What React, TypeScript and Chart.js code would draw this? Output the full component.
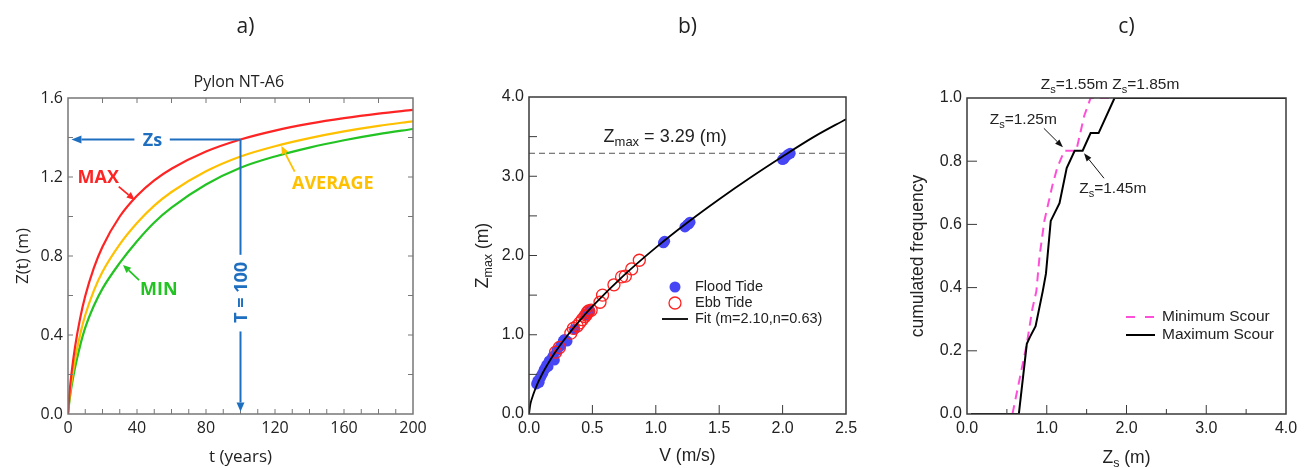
import { useEffect, useRef } from 'react';
import { Chart, registerables } from 'chart.js';
Chart.register(...registerables);

// ---------- Panel a: scour depth vs time ----------
const tYears = [0, 1, 2, 4, 7, 10, 15, 20, 30, 40, 50, 60, 80, 100, 120, 140, 160, 180, 200];
const zMaxCurve = [0, 0.118, 0.203, 0.335, 0.483, 0.597, 0.74, 0.847, 1.0, 1.105, 1.183, 1.242, 1.329, 1.39, 1.435, 1.47, 1.498, 1.521, 1.54];
const zAvgCurve = [0, 0.094, 0.163, 0.273, 0.4, 0.501, 0.625, 0.72, 0.859, 0.967, 1.055, 1.124, 1.229, 1.304, 1.356, 1.397, 1.431, 1.459, 1.482];
const zMinCurve = [0, 0.078, 0.136, 0.231, 0.345, 0.437, 0.548, 0.635, 0.765, 0.875, 0.97, 1.045, 1.162, 1.247, 1.304, 1.349, 1.386, 1.417, 1.443];
const designLife = 100;

// ---------- Panel b: Zmax vs V ----------
const floodV = [0.06, 0.07, 0.08, 0.09, 0.10, 0.11, 0.12, 0.13, 0.14, 0.15, 0.16, 0.18, 0.19, 0.20, 0.22, 0.25, 0.27, 0.28, 0.30, 0.36, 0.45, 0.47, 0.48, 1.06, 1.07, 1.23, 1.25, 1.26, 1.27, 2.00, 2.01, 2.02, 2.04, 2.06];
const floodZ = [0.38, 0.42, 0.40, 0.46, 0.49, 0.52, 0.56, 0.58, 0.62, 0.60, 0.67, 0.70, 0.73, 0.68, 0.80, 0.86, 0.92, 0.94, 0.92, 1.07, 1.25, 1.28, 1.30, 2.16, 2.18, 2.36, 2.39, 2.40, 2.42, 3.21, 3.22, 3.24, 3.27, 3.29];
const ebbV = [0.21, 0.24, 0.33, 0.35, 0.38, 0.40, 0.42, 0.44, 0.45, 0.46, 0.47, 0.49, 0.56, 0.58, 0.67, 0.73, 0.76, 0.81, 0.87];
const ebbZ = [0.78, 0.84, 1.02, 1.08, 1.11, 1.15, 1.19, 1.23, 1.25, 1.28, 1.30, 1.31, 1.41, 1.50, 1.63, 1.73, 1.74, 1.83, 1.94];
const fitV = [0, 0.01, 0.02, 0.05, 0.1, 0.2, 0.3, 0.4, 0.5, 0.75, 1.0, 1.25, 1.5, 1.75, 2.0, 2.25, 2.5];
const fitZ = [0, 0.116, 0.179, 0.318, 0.492, 0.762, 0.984, 1.179, 1.357, 1.752, 2.10, 2.417, 2.711, 2.988, 3.25, 3.50, 3.72];
const zMaxDesign = 3.29;

// ---------- Panel c: cumulated frequency ----------
const maxScourZ = [0.05, 0.65, 0.75, 0.79, 0.86, 0.95, 0.99, 1.05, 1.16, 1.25, 1.35, 1.45, 1.55, 1.65, 1.85, 4.0];
const maxScourF = [0, 0, 0.222, 0.244, 0.278, 0.389, 0.444, 0.611, 0.667, 0.778, 0.833, 0.833, 0.889, 0.889, 1.0, 1.0];
const minScourZ = [0.57, 0.66, 0.75, 0.82, 0.87, 0.91, 0.97, 1.02, 1.07, 1.13, 1.22, 1.37, 1.47, 1.55, 4.0];
const minScourF = [0, 0.111, 0.222, 0.333, 0.389, 0.5, 0.611, 0.667, 0.722, 0.778, 0.833, 0.833, 0.944, 1.0, 1.0];

const OS = "'Open Sans', sans-serif";
const AR = "'Liberation Sans', Arial, sans-serif";
const TXT = '#222';

const toPts = (xs: number[], ys: number[]) => xs.map((x, i) => ({ x, y: ys[i] }));

function line(ctx: any, x1: number, y1: number, x2: number, y2: number) {
  ctx.beginPath(); ctx.moveTo(x1, y1); ctx.lineTo(x2, y2); ctx.stroke();
}

function drawArrow(ctx: any, x1: number, y1: number, x2: number, y2: number, color: string, lw: number, head: number, hw: number) {
  const ang = Math.atan2(y2 - y1, x2 - x1);
  const bx = x2 - head * Math.cos(ang), by = y2 - head * Math.sin(ang);
  ctx.strokeStyle = color; ctx.fillStyle = color; ctx.lineWidth = lw; ctx.setLineDash([]);
  line(ctx, x1, y1, bx, by);
  ctx.beginPath();
  ctx.moveTo(x2, y2);
  ctx.lineTo(bx + hw * Math.sin(ang), by - hw * Math.cos(ang));
  ctx.lineTo(bx - hw * Math.sin(ang), by + hw * Math.cos(ang));
  ctx.closePath(); ctx.fill();
}

// runs: [text, size, baselineOffset]
function drawRuns(ctx: any, runs: [string, number, number][], x: number, y: number, family: string, color: string, center: boolean) {
  ctx.fillStyle = color; ctx.textBaseline = 'alphabetic'; ctx.textAlign = 'left';
  const widths = runs.map(r => { ctx.font = `${r[1]}px ${family}`; return ctx.measureText(r[0]).width; });
  const total = widths.reduce((a, b) => a + b, 0);
  let cx = center ? x - total / 2 : x;
  runs.forEach((r, i) => { ctx.font = `${r[1]}px ${family}`; ctx.fillText(r[0], cx, y + r[2]); cx += widths[i]; });
}

function header(ctx: any, text: string, x: number) {
  ctx.save();
  ctx.font = `21px ${OS}`; ctx.fillStyle = TXT; ctx.textAlign = 'center'; ctx.textBaseline = 'middle';
  ctx.fillText(text, x, 27);
  ctx.restore();
}

const decoA = {
  id: 'decoA',
  afterDraw(chart: any) {
    const { ctx, chartArea: ca } = chart;
    const X = (v: number) => chart.scales.x.getPixelForValue(v);
    const Y = (v: number) => chart.scales.y.getPixelForValue(v);
    ctx.save();
    ctx.strokeStyle = '#777'; ctx.lineWidth = 1;
    for (let v = 0.2; v < 1.59; v += 0.2) { const p = Y(v); line(ctx, ca.left, p, ca.left + 5, p); line(ctx, ca.right, p, ca.right - 5, p); }
    for (let v = 10; v < 200; v += 10) { const p = X(v); line(ctx, p, ca.bottom, p, ca.bottom - 5); }
    for (let v = 20; v < 200; v += 20) { const p = X(v); line(ctx, p, ca.top, p, ca.top + 5); }
    ctx.lineWidth = 1.5;
    ctx.strokeRect(ca.left, ca.top, ca.right - ca.left, ca.bottom - ca.top);

    // panel title
    ctx.font = `16px ${OS}`; ctx.fillStyle = TXT; ctx.textAlign = 'center'; ctx.textBaseline = 'middle';
    ctx.fillText('Pylon NT-A6', X(99), 82);

    // Zs / T = 100 construction
    const blue = '#1F6FC0';
    const zs = zMaxCurve[tYears.indexOf(designLife)];
    const px = X(designLife), py = Y(zs);
    ctx.strokeStyle = blue; ctx.lineWidth = 2;
    line(ctx, px, py, X(59), py);
    drawArrow(ctx, X(38.5), py, X(2), py, blue, 2, 10, 4);
    ctx.font = `bold 18px ${OS}`; ctx.fillStyle = blue; ctx.textAlign = 'center'; ctx.textBaseline = 'middle';
    ctx.fillText('Zs', X(49), py + 1);
    ctx.strokeStyle = blue; ctx.lineWidth = 2;
    line(ctx, px, py, px, Y(0.806));
    drawArrow(ctx, px, Y(0.418), px, Y(0.013), blue, 2, 9, 4);
    ctx.save();
    ctx.translate(px, Y(0.616)); ctx.rotate(-Math.PI / 2);
    ctx.font = `bold 18px ${OS}`; ctx.fillStyle = blue; ctx.textAlign = 'center'; ctx.textBaseline = 'middle';
    ctx.fillText('T = 100', 0, 1);
    ctx.restore();

    // curve labels
    const red = '#FF2424', orange = '#FFC000', green = '#22C322';
    ctx.font = `bold 18px ${OS}`; ctx.textAlign = 'center'; ctx.textBaseline = 'middle';
    ctx.fillStyle = red; ctx.fillText('MAX', X(17.5), Y(1.195));
    ctx.fillStyle = orange; ctx.fillText('AVERAGE', X(153.5), Y(1.166));
    ctx.fillStyle = green; ctx.fillText('MIN', X(52.6), Y(0.629));
    drawArrow(ctx, X(29.4), Y(1.151), X(38.7), Y(1.084), red, 1.8, 8, 3.5);
    drawArrow(ctx, X(131.4), Y(1.227), X(123.7), Y(1.357), orange, 1.8, 8, 3.5);
    drawArrow(ctx, X(41.2), Y(0.678), X(31.9), Y(0.755), green, 1.8, 8, 3.5);

    header(ctx, 'a)', (ca.left + ca.right) / 2 + 5);
    ctx.restore();
  },
};

const decoB = {
  id: 'decoB',
  afterDraw(chart: any) {
    const { ctx, chartArea: ca } = chart;
    const X = (v: number) => chart.scales.x.getPixelForValue(v);
    const Y = (v: number) => chart.scales.y.getPixelForValue(v);
    ctx.save();
    ctx.strokeStyle = '#3a3a3a'; ctx.lineWidth = 1;
    for (let v = 0.5; v < 3.99; v += 0.5) { const p = Y(v); line(ctx, ca.left, p, ca.left + 8, p); }
    for (let v = 0.5; v < 2.49; v += 0.5) { const p = X(v); line(ctx, p, ca.bottom, p, ca.bottom - 9); }
    ctx.lineWidth = 1.5;
    ctx.strokeRect(ca.left, ca.top, ca.right - ca.left, ca.bottom - ca.top);

    drawRuns(ctx, [['Z', 18, 0], ['max', 13, 4], [' = ' + zMaxDesign.toFixed(2) + ' (m)', 18, 0]], X(0.588), Y(3.438), AR, TXT, false);

    // legend
    const lx = ca.left + 146, tx = ca.left + 166;
    const r1 = ca.top + 190, r2 = ca.top + 206, r3 = ca.top + 222;
    ctx.fillStyle = '#4646F5';
    ctx.beginPath(); ctx.arc(lx, r1, 5.5, 0, Math.PI * 2); ctx.fill();
    ctx.strokeStyle = '#FF2020'; ctx.lineWidth = 1.3;
    ctx.beginPath(); ctx.arc(lx, r2, 6, 0, Math.PI * 2); ctx.stroke();
    ctx.strokeStyle = '#000'; ctx.lineWidth = 1.8;
    line(ctx, ca.left + 133, r3, ca.left + 159, r3);
    ctx.font = `14.5px ${AR}`; ctx.fillStyle = TXT; ctx.textAlign = 'left'; ctx.textBaseline = 'middle';
    ctx.fillText('Flood Tide', tx, r1);
    ctx.fillText('Ebb Tide', tx, r2);
    ctx.fillText('Fit (m=2.10,n=0.63)', tx, r3);

    // y title with subscript
    ctx.save();
    ctx.translate(41.7, (ca.top + ca.bottom) / 2); ctx.rotate(-Math.PI / 2);
    drawRuns(ctx, [['Z', 17.5, 0], ['max', 12.5, 4], [' (m)', 17.5, 0]], 0, 6, AR, TXT, true);
    ctx.restore();

    header(ctx, 'b)', (ca.left + ca.right) / 2);
    ctx.restore();
  },
};

const decoC = {
  id: 'decoC',
  afterDraw(chart: any) {
    const { ctx, chartArea: ca } = chart;
    const X = (v: number) => chart.scales.x.getPixelForValue(v);
    const Y = (v: number) => chart.scales.y.getPixelForValue(v);
    ctx.save();
    ctx.strokeStyle = '#3a3a3a'; ctx.lineWidth = 1;
    for (let v = 0.2; v < 0.99; v += 0.2) { const p = Y(v); line(ctx, ca.left, p, ca.left + 10, p); }
    for (let i = 1; i < 8; i++) { const p = X(i * 0.5); line(ctx, p, ca.bottom, p, ca.bottom - (i % 2 === 0 ? 9 : 5)); }
    ctx.lineWidth = 1.5;
    ctx.strokeRect(ca.left, ca.top, ca.right - ca.left, ca.bottom - ca.top);

    const zs = (v: string) => [['Z', 15.5, 0], ['s', 11, 3.5], ['=' + v + 'm', 15.5, 0]] as [string, number, number][];
    drawRuns(ctx, zs('1.55'), X(0.926), Y(1.027), AR, TXT, false);
    drawRuns(ctx, zs('1.85'), X(1.822), Y(1.027), AR, TXT, false);
    drawRuns(ctx, zs('1.25'), X(0.285), Y(0.917), AR, TXT, false);
    drawRuns(ctx, zs('1.45'), X(1.407), Y(0.698), AR, TXT, false);
    drawArrow(ctx, X(0.964), Y(0.904), X(1.203), Y(0.844), '#111', 1, 8, 3);
    drawArrow(ctx, X(1.718), Y(0.746), X(1.467), Y(0.825), '#111', 1, 8, 3);

    // legend
    const x1 = ca.left + 159, x2 = ca.left + 188, tx = ca.left + 195;
    const r1 = ca.top + 219, r2 = ca.top + 237;
    ctx.strokeStyle = '#FF4FD8'; ctx.lineWidth = 2; ctx.setLineDash([9, 10]);
    line(ctx, x1, r1, x2, r1);
    ctx.setLineDash([]);
    ctx.strokeStyle = '#000'; ctx.lineWidth = 2;
    line(ctx, x1, r2, x2, r2);
    ctx.font = `15.5px ${AR}`; ctx.fillStyle = TXT; ctx.textAlign = 'left'; ctx.textBaseline = 'middle';
    ctx.fillText('Minimum Scour', tx, r1);
    ctx.fillText('Maximum Scour', tx, r2);

    // x title with subscript
    drawRuns(ctx, [['Z', 17.5, 0], ['s', 12.5, 4], [' (m)', 17.5, 0]], (ca.left + ca.right) / 2, 463, AR, TXT, true);

    header(ctx, 'c)', (ca.left + ca.right) / 2);
    ctx.restore();
  },
};

const noGrid = { display: false, drawTicks: false };
const noBorder = { display: false };
const fix1 = (v: any) => Number(v).toFixed(1);

function makeA(cv: HTMLCanvasElement) {
  const tickFont = { family: OS, size: 16 };
  const curve = (ys: number[], color: string) => ({
    data: toPts(tYears, ys), showLine: true, borderColor: color, borderWidth: 2.2, pointRadius: 0, cubicInterpolationMode: 'monotone',
  });
  return new Chart(cv, {
    type: 'scatter',
    data: {
      datasets: [curve(zMaxCurve, '#FF2424'), curve(zAvgCurve, '#FFC000'), curve(zMinCurve, '#22C322')],
    },
    options: {
      animation: false, responsive: false, events: [],
      layout: { padding: { left: 0, right: 27, top: 98, bottom: 0 } },
      plugins: { legend: { display: false }, tooltip: { enabled: false } },
      scales: {
        x: {
          type: 'linear', min: 0, max: 200, grid: noGrid, border: noBorder,
          afterFit: (s: any) => { s.height = 54; },
          ticks: { stepSize: 40, padding: 5, color: TXT, font: tickFont, maxRotation: 0, autoSkip: false },
          title: { display: true, text: 't (years)', color: TXT, font: { family: OS, size: 17 }, padding: { top: 0, bottom: 1 } },
        },
        y: {
          type: 'linear', min: 0, max: 1.6, grid: noGrid, border: noBorder,
          afterFit: (s: any) => { s.width = 68; },
          ticks: { stepSize: 0.4, padding: 5, color: TXT, font: tickFont, callback: fix1 },
          title: { display: true, text: 'Z(t) (m)', color: TXT, font: { family: OS, size: 17 }, padding: { top: 13, bottom: 0 } },
        },
      },
    } as any,
    plugins: [decoA],
  });
}

function makeB(cv: HTMLCanvasElement) {
  const tickFont = { family: AR, size: 16 };
  return new Chart(cv, {
    type: 'scatter',
    data: {
      datasets: [
        { data: toPts(fitV, fitZ), showLine: true, borderColor: '#000', borderWidth: 1.8, pointRadius: 0, cubicInterpolationMode: 'monotone', order: 0 },
        { data: toPts(ebbV, ebbZ), pointRadius: 6, pointBorderWidth: 1.3, pointBorderColor: '#FF2020', pointBackgroundColor: 'rgba(0,0,0,0)', borderColor: '#FF2020', backgroundColor: 'rgba(0,0,0,0)', order: 1 },
        { data: toPts(floodV, floodZ), pointRadius: 5.5, pointBorderWidth: 0, pointBackgroundColor: '#4646F5', backgroundColor: '#4646F5', borderColor: '#4646F5', order: 2 },
        { data: [{ x: 0, y: zMaxDesign }, { x: 2.5, y: zMaxDesign }], showLine: true, borderColor: '#555', borderWidth: 1, borderDash: [6, 4], pointRadius: 0, order: 3 },
      ],
    },
    options: {
      animation: false, responsive: false, events: [],
      layout: { padding: { left: 0, right: 34, top: 97, bottom: 0 } },
      plugins: { legend: { display: false }, tooltip: { enabled: false } },
      scales: {
        x: {
          type: 'linear', min: 0, max: 2.5, grid: noGrid, border: noBorder,
          afterFit: (s: any) => { s.height = 54; },
          ticks: { stepSize: 0.5, padding: 5, color: TXT, font: tickFont, maxRotation: 0, autoSkip: false, callback: fix1 },
          title: { display: true, text: 'V (m/s)', color: TXT, font: { family: AR, size: 17.5 }, padding: { top: 0, bottom: 1 } },
        },
        y: {
          type: 'linear', min: 0, max: 4, grid: noGrid, border: noBorder,
          afterFit: (s: any) => { s.width = 89; },
          ticks: { stepSize: 1, padding: 5, color: TXT, font: tickFont, callback: fix1 },
        },
      },
    } as any,
    plugins: [decoB],
  });
}

function makeC(cv: HTMLCanvasElement) {
  const tickFont = { family: AR, size: 16 };
  return new Chart(cv, {
    type: 'scatter',
    data: {
      datasets: [
        { data: toPts(maxScourZ, maxScourF), showLine: true, borderColor: '#000', borderWidth: 2, pointRadius: 0, order: 0 },
        { data: toPts(minScourZ, minScourF), showLine: true, borderColor: '#FF4FD8', borderWidth: 2, borderDash: [9, 6], pointRadius: 0, order: 1 },
      ],
    },
    options: {
      animation: false, responsive: false, events: [],
      layout: { padding: { left: 0, right: 23, top: 98, bottom: 0 } },
      plugins: { legend: { display: false }, tooltip: { enabled: false } },
      scales: {
        x: {
          type: 'linear', min: 0, max: 4, grid: noGrid, border: noBorder,
          afterFit: (s: any) => { s.height = 54; },
          ticks: { stepSize: 1, padding: 5, color: TXT, font: tickFont, maxRotation: 0, autoSkip: false, callback: fix1 },
        },
        y: {
          type: 'linear', min: 0, max: 1, grid: noGrid, border: noBorder,
          afterFit: (s: any) => { s.width = 87; },
          ticks: { stepSize: 0.2, padding: 5, color: TXT, font: tickFont, callback: fix1 },
          title: { display: true, text: 'cumulated frequency', color: TXT, font: { family: AR, size: 17.5 }, padding: { top: 28, bottom: 0 } },
        },
      },
    } as any,
    plugins: [decoC],
  });
}

export default function App() {
  const refA = useRef<HTMLCanvasElement>(null);
  const refB = useRef<HTMLCanvasElement>(null);
  const refC = useRef<HTMLCanvasElement>(null);
  useEffect(() => {
    const charts = [makeA(refA.current!), makeB(refB.current!), makeC(refC.current!)];
    return () => charts.forEach(c => c.destroy());
  }, []);
  return (
    <div style={{ position: 'absolute', left: 0, top: 0, width: 1309, height: 468, background: '#fff', overflow: 'hidden' }}>
      <canvas ref={refA} width={440} height={468} style={{ position: 'absolute', left: 0, top: 0 }} />
      <canvas ref={refB} width={440} height={468} style={{ position: 'absolute', left: 440, top: 0 }} />
      <canvas ref={refC} width={429} height={468} style={{ position: 'absolute', left: 880, top: 0 }} />
    </div>
  );
}
